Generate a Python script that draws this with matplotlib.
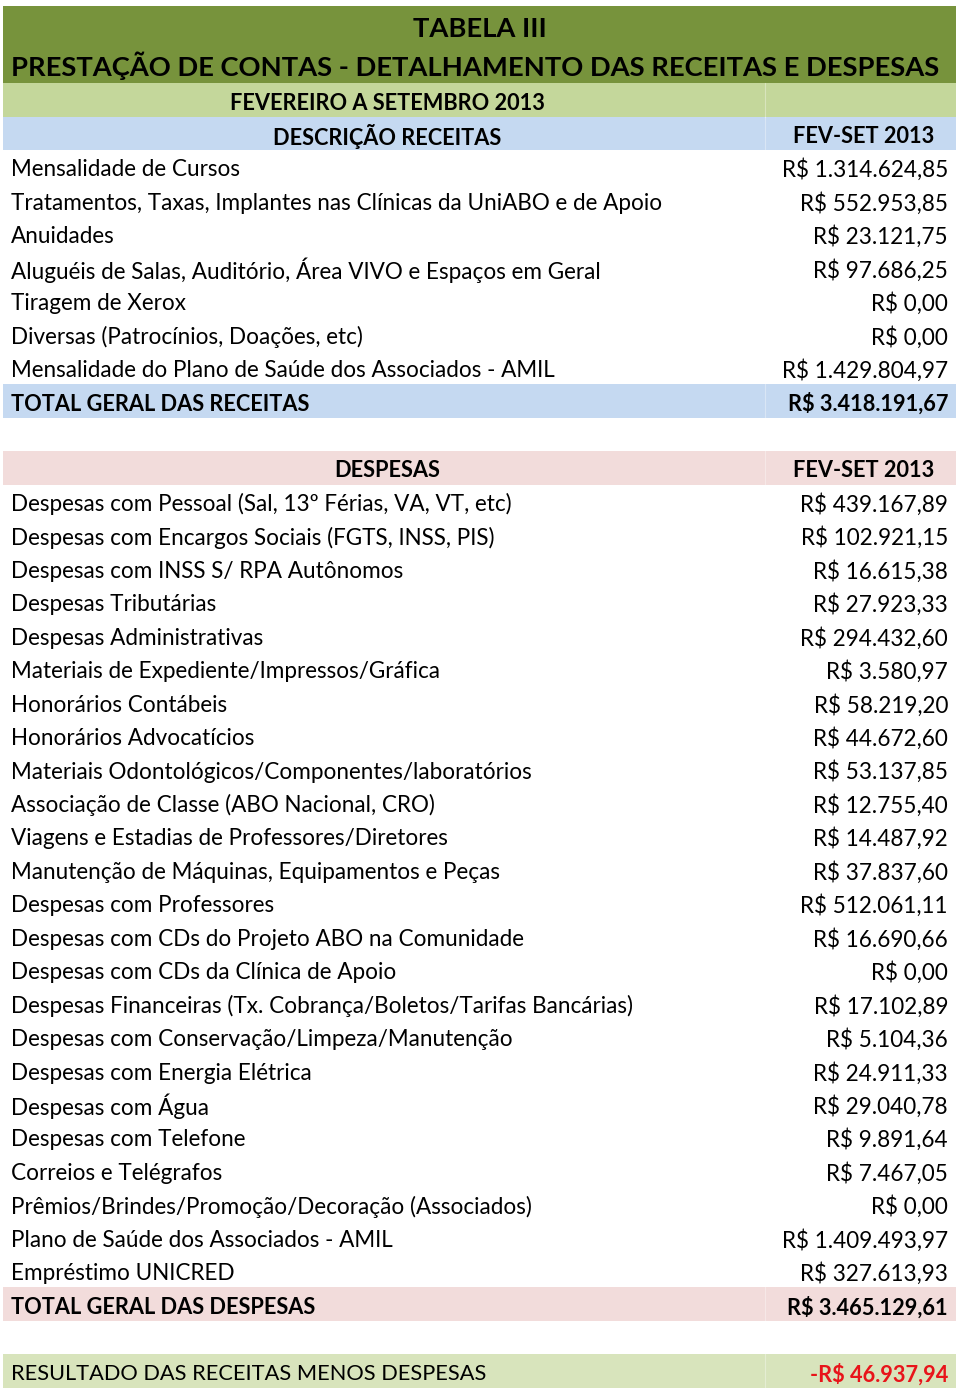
import matplotlib
matplotlib.use("Agg")
import matplotlib.pyplot as plt
from matplotlib.patches import Rectangle

plt.rcParams['font.family'] = ['Lato', 'DejaVu Sans']

# ---------------- data ----------------
title_line1 = "TABELA III"
title_line2 = "PRESTAÇÃO DE CONTAS - DETALHAMENTO DAS RECEITAS E DESPESAS"
period = "FEVEREIRO A SETEMBRO 2013"
col_header = "FEV-SET 2013"

receitas_header = "DESCRIÇÃO RECEITAS"
receitas_labels = [
    "Mensalidade de Cursos",
    "Tratamentos, Taxas, Implantes nas Clínicas da UniABO e de Apoio",
    "Anuidades",
    "Aluguéis de Salas, Auditório, Área VIVO e Espaços em Geral",
    "Tiragem de Xerox",
    "Diversas (Patrocínios, Doações, etc)",
    "Mensalidade do Plano de Saúde dos Associados - AMIL",
]
receitas_values = [1314624.85, 552953.85, 23121.75, 97686.25, 0.00, 0.00, 1429804.97]
receitas_total_label = "TOTAL GERAL DAS RECEITAS"
receitas_total = 3418191.67

despesas_header = "DESPESAS"
despesas_labels = [
    "Despesas com Pessoal (Sal, 13º Férias, VA, VT, etc)",
    "Despesas com Encargos Sociais (FGTS, INSS, PIS)",
    "Despesas com INSS S/ RPA Autônomos",
    "Despesas Tributárias",
    "Despesas Administrativas",
    "Materiais de Expediente/Impressos/Gráfica",
    "Honorários Contábeis",
    "Honorários Advocatícios",
    "Materiais Odontológicos/Componentes/laboratórios",
    "Associação de Classe (ABO Nacional, CRO)",
    "Viagens e Estadias de Professores/Diretores",
    "Manutenção de Máquinas, Equipamentos e Peças",
    "Despesas com Professores",
    "Despesas com CDs do Projeto ABO na Comunidade",
    "Despesas com CDs da Clínica de Apoio",
    "Despesas Financeiras (Tx. Cobrança/Boletos/Tarifas Bancárias)",
    "Despesas com Conservação/Limpeza/Manutenção",
    "Despesas com Energia Elétrica",
    "Despesas com Água",
    "Despesas com Telefone",
    "Correios e Telégrafos",
    "Prêmios/Brindes/Promoção/Decoração (Associados)",
    "Plano de Saúde dos Associados - AMIL",
    "Empréstimo UNICRED",
]
despesas_values = [439167.89, 102921.15, 16615.38, 27923.33, 294432.60, 3580.97,
                   58219.20, 44672.60, 53137.85, 12755.40, 14487.92, 37837.60,
                   512061.11, 16690.66, 0.00, 17102.89, 5104.36, 24911.33,
                   29040.78, 9891.64, 7467.05, 0.00, 1409493.97, 327613.93]
despesas_total_label = "TOTAL GERAL DAS DESPESAS"
despesas_total = 3465129.61

resultado_label = "RESULTADO DAS RECEITAS MENOS DESPESAS"
resultado = -46937.94

# ---------------- style ----------------
DARK_GREEN = "#77933C"
LIGHT_GREEN = "#C4D79B"
RESULT_GREEN = "#D8E4BC"
BLUE = "#C5D9F1"
PINK = "#F2DCDB"
RED = "#E8141A"


def brl(v):
    s = f"{abs(v):,.2f}".replace(",", "X").replace(".", ",").replace("X", ".")
    return ("-" if v < 0 else "") + "R$ " + s


W, H = 960, 1388
fig = plt.figure(figsize=(W / 100, H / 100), dpi=100)
ax = fig.add_axes([0, 0, 1, 1])
ax.set_xlim(0, W)
ax.set_ylim(H, 0)
ax.axis("off")
renderer = fig.canvas.get_renderer()


def fit_size(text, target_px, weight="normal"):
    t = ax.text(0, 0, text, fontsize=10, fontweight=weight)
    w = t.get_window_extent(renderer).width
    t.remove()
    return 10 * target_px / w


FS = fit_size(receitas_labels[1], 651)
FS_BOLD = (FS * fit_size(receitas_total_label, 288, "bold")) ** 0.5
FS_UPPER = (FS * fit_size(resultado_label, 452)) ** 0.5
FS_TITLE = fit_size(title_line2, 928, "bold")

X0, X1, XSPLIT = 3, 956, 765
TX_L, TX_R = 11, 948
ROW_H = 33.45
ROW0 = 100.0  # centre of the period row


def yc(k):
    return ROW0 + ROW_H * k


def band(k, color, split=True):
    y = yc(k) - ROW_H / 2
    ax.add_patch(Rectangle((X0, y), X1 - X0, ROW_H, color=color, lw=0, zorder=0))
    if split:
        ax.plot([XSPLIT, XSPLIT], [y, y + ROW_H], color="white", alpha=0.35, lw=0.8, zorder=1)


def txt(x, k, s, ha, bold=False, color="black", size=None):
    if size is None:
        size = FS_BOLD if bold else FS
    ax.text(x, yc(k) + 1, s, fontsize=size,
            fontweight="bold" if bold else "normal",
            ha=ha, va="center_baseline", color=color)


# title band
top = 6
ax.add_patch(Rectangle((X0, top), X1 - X0, yc(0) - ROW_H / 2 - top, color=DARK_GREEN, lw=0, zorder=0))
ax.text((X0 + X1) / 2, 27, title_line1, fontsize=FS_TITLE, fontweight="bold", ha="center", va="center_baseline")
ax.text(TX_L, 64, title_line2, fontsize=FS_TITLE, fontweight="bold", ha="left", va="center_baseline")

# period row
band(0, LIGHT_GREEN)
txt(387, 0, period, "center", bold=True)

# receitas
band(1, BLUE)
txt(387, 1, receitas_header, "center", bold=True)
txt(864, 1, col_header, "center", bold=True)
k = 2
for lab, val in zip(receitas_labels, receitas_values):
    txt(TX_L, k, lab, "left")
    txt(TX_R, k, brl(val), "right")
    k += 1
band(k, BLUE)
txt(TX_L, k, receitas_total_label, "left", bold=True)
txt(TX_R, k, brl(receitas_total), "right", bold=True)
k += 2

# despesas
band(k, PINK)
txt(387, k, despesas_header, "center", bold=True)
txt(864, k, col_header, "center", bold=True)
k += 1
for lab, val in zip(despesas_labels, despesas_values):
    txt(TX_L, k, lab, "left")
    txt(TX_R, k, brl(val), "right")
    k += 1
band(k, PINK)
txt(TX_L, k, despesas_total_label, "left", bold=True)
txt(TX_R, k, brl(despesas_total), "right", bold=True)
k += 2

# resultado
band(k, RESULT_GREEN)
txt(TX_L, k, resultado_label, "left", size=FS_UPPER)
txt(TX_R, k, brl(resultado), "right", bold=True, color=RED)

fig.savefig("out.png", dpi=100)
